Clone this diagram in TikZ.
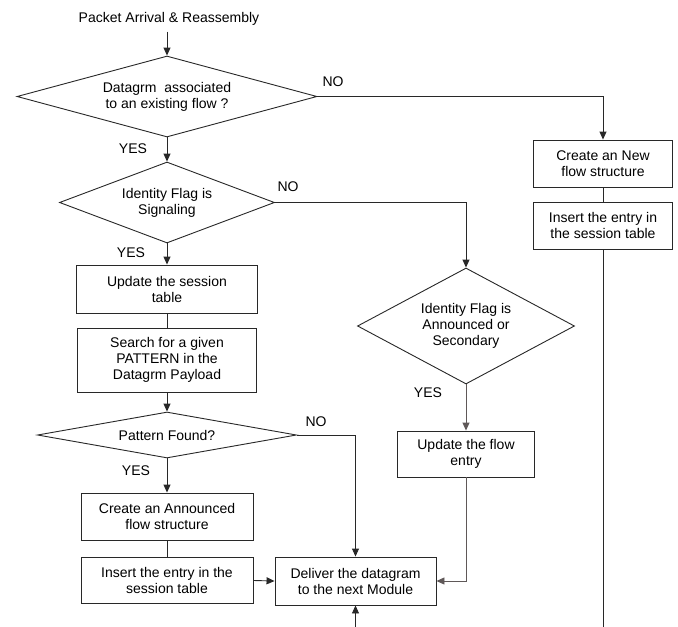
\documentclass[tikz,border=0pt]{standalone}
\usepackage{fontspec}
\setmainfont{Liberation Sans}
\usetikzlibrary{shapes.geometric,arrows.meta}
\definecolor{ln}{RGB}{40,40,40}
\definecolor{gl}{RGB}{95,88,88}
\begin{document}
\begin{tikzpicture}[x=1pt,y=-1pt,
  every node/.style={font=\fontsize{14}{16}\selectfont, text=black},
  box/.style={draw=ln, line width=0.9pt, fill=white, inner sep=0pt, align=center},
  dec/.style={draw=ln, line width=0.9pt, fill=white, shape=diamond, inner sep=0pt, align=center},
  conn/.style={draw=ln, line width=0.9pt},
  arr/.style={conn, -{Triangle[length=8pt,width=7pt]}},
  garr/.style={draw=gl, line width=0.9pt, -{Triangle[length=8pt,width=7pt]}},
  lbl/.style={inner sep=0pt}]
\useasboundingbox (0,0) rectangle (678,627);
\node[lbl] (title) at (169,19) {Packet Arrival \& Reassembly};
\node[dec, minimum width=300pt, minimum height=81pt, aspect=3.7] (d1) at (167,96.5) {Datagrm\ \ associated\\to an existing flow ?};
\node[box, minimum width=139pt, minimum height=47pt] (new1) at (603,163.5) {Create an New\\flow structure};
\node[box, minimum width=139pt, minimum height=47pt] (ins1) at (603,225.5) {Insert the entry in\\the session table};
\node[dec, minimum width=215pt, minimum height=81pt, aspect=2.65] (d2) at (167,202.5) {Identity Flag is\\Signaling};
\node[dec, minimum width=217pt, minimum height=116pt, aspect=1.87] (d3) at (466,326) {Identity Flag is\\Announced or\\Secondary};
\node[box, minimum width=137pt, minimum height=46pt] (updf) at (466,454) {Update the flow\\entry};
\node[box, minimum width=181pt, minimum height=48pt] (upd) at (167,289) {Update the session\\table};
\node[box, minimum width=179pt, minimum height=64pt] (search) at (167,360) {Search for a given\\PATTERN in the\\Datagrm Payload};
\node[dec, minimum width=259pt, minimum height=46pt, aspect=5.6] (d4) at (167,435) {Pattern Found?};
\node[box, minimum width=172pt, minimum height=47pt] (ann) at (167,516.5) {Create an Announced\\flow structure};
\node[box, minimum width=172pt, minimum height=46pt] (ins2) at (167,580.5) {Insert the entry in the\\session table};
\node[box, minimum width=161pt, minimum height=48pt] (del) at (355.5,581) {Deliver the datagram\\to the next Module};
\coordinate (botR) at (603,627);
\coordinate (botD) at (355.5,627);
% labels
\node[lbl] (no1) at (333,82) {NO};
\node[lbl] (yes1) at (133,149) {YES};
\node[lbl] (no2) at (288,187) {NO};
\node[lbl] (yes2) at (131,253) {YES};
\node[lbl] (yes3) at (428,393) {YES};
\node[lbl] (no4) at (316,422) {NO};
\node[lbl] (yes4) at (136,471) {YES};
% connectors
\draw[arr] (title.south) ++(-2,6) coordinate (tstart) -- (d1.north);
\draw[arr] (d1.east) -| (new1.north);
\draw[conn] (new1.south) -- (ins1.north);
\draw[conn] (ins1.south) -- (botR);
\draw[arr] (d1.south) -- (d2.north);
\draw[arr] (d2.east) -| (d3.north);
\draw[garr] (d3.south) -- (updf.north);
\draw[garr] (updf.south) |- (del.east);
\draw[arr] (d2.south) -- (upd.north);
\draw[conn] (upd.south) -- (search.north);
\draw[arr] (search.south) -- (d4.north);
\draw[arr] (d4.east) -| (del.north);
\draw[arr] (d4.south) -- (ann.north);
\draw[conn] (ann.south) -- (ins2.north);
\draw[arr] (ins2.east) -- (del.west);
\draw[arr] (botD) -- (del.south);
\end{tikzpicture}
\end{document}
